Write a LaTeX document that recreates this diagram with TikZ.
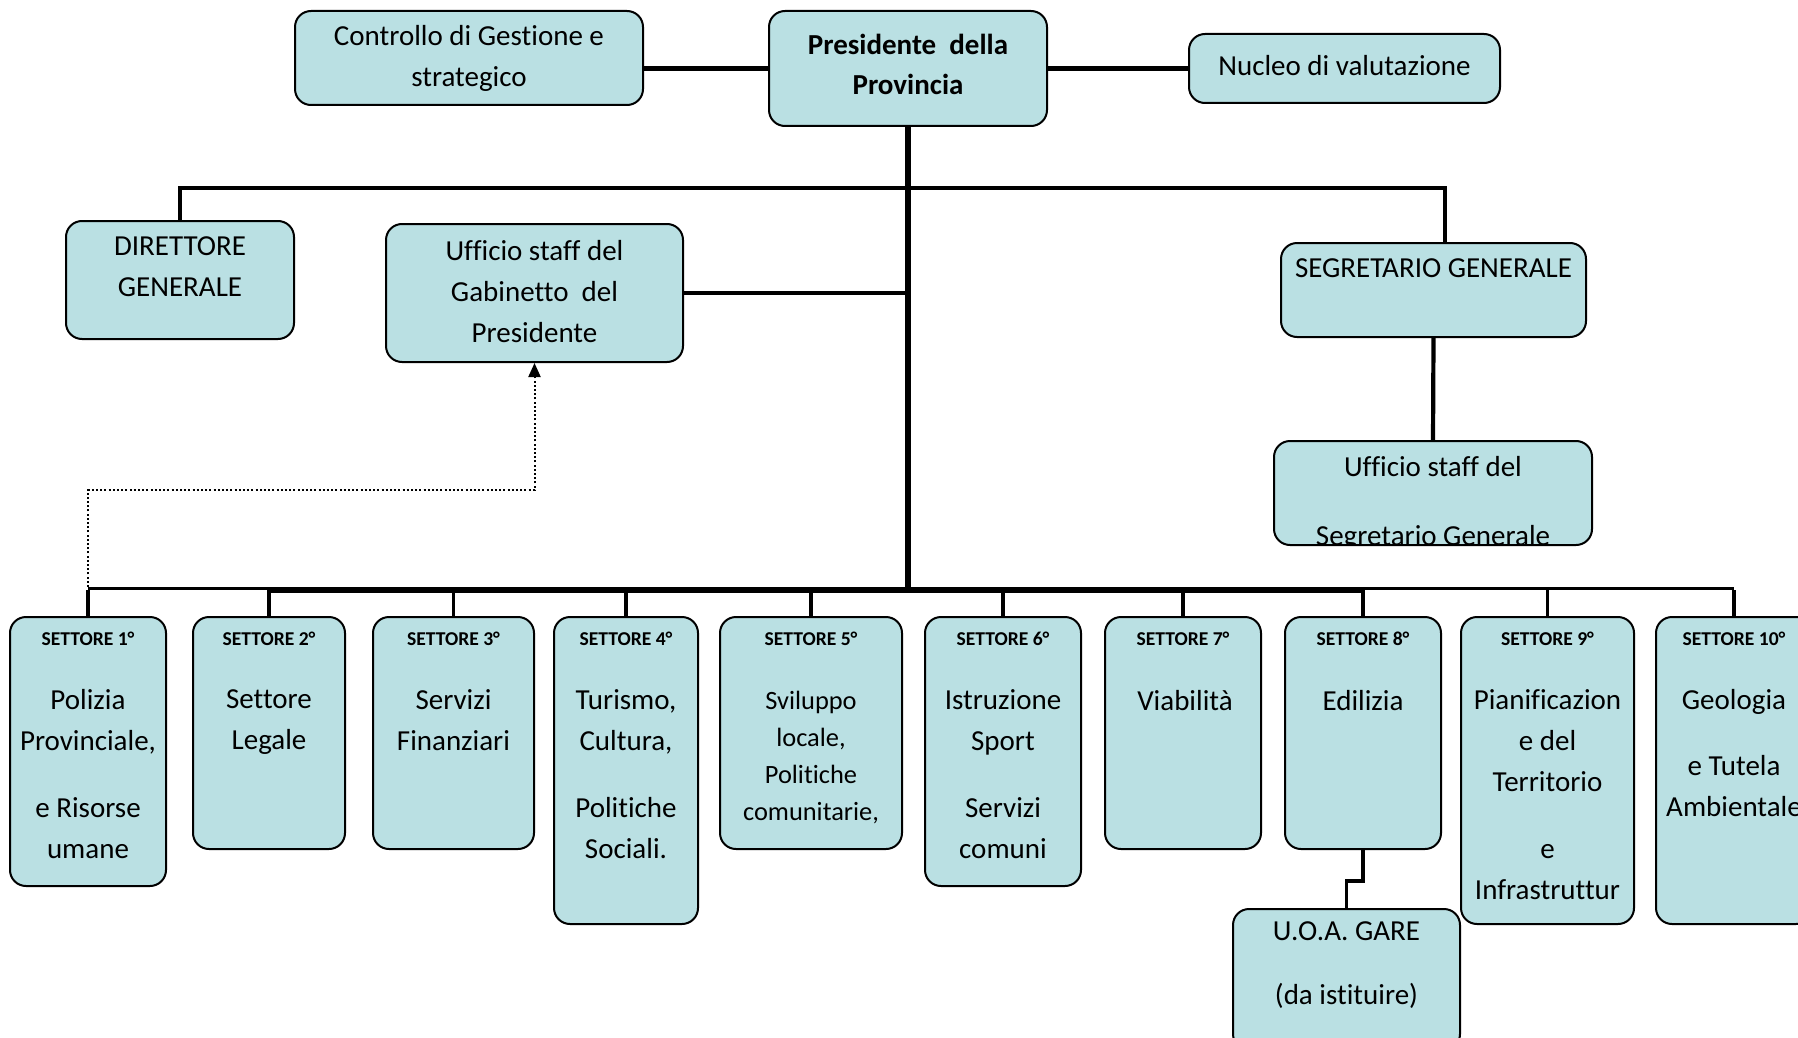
\documentclass[tikz,border=0pt]{standalone}
\usepackage{fontspec}
\setmainfont{Carlito}[Ligatures=NoCommon]
\usetikzlibrary{arrows.meta,positioning}
\definecolor{boxfill}{RGB}{186,224,227}
\newdimen\pxu \pxu=0.5pt
\tikzset{
  orgbox/.style={draw=black, line width=1pt, fill=boxfill, rounded corners=8pt, inner sep=0pt},
  txt/.style={inner sep=0pt, anchor=north, align=center,
    font=\fontsize{14.5}{20.5}\selectfont, execute at begin node=\strut},
  smalltxt/.style={txt, font=\fontsize{13.2}{18.5}\selectfont},
  tag/.style={inner sep=0pt, font=\fontsize{9.8}{12}\selectfont\bfseries},
  link/.style={line width=2.1pt},
  trunk/.style={line width=3pt},
  drop/.style={line width=1.8pt},
  thinbus/.style={line width=1.6pt},
  dotlink/.style={line width=1pt, dash pattern=on 1pt off 1.1pt, -{Triangle[length=7pt,width=6pt]}},
}
\begin{document}
\begin{tikzpicture}[x=0.5pt,y=-0.5pt]
      \useasboundingbox (0,0) rectangle (1798,1038);
      % top row
      \node[orgbox, minimum width=348\pxu, minimum height=94\pxu] (ctrl) at (469,58) {};
      \node[orgbox, minimum width=278\pxu, minimum height=115\pxu] (pres) at (908,68.5) {};
      \node[orgbox, minimum width=311\pxu, minimum height=69\pxu] (nucl) at (1344.5,68.5) {};
      \node[txt] (ctrlt) at (469,25) {Controllo di Gestione e\\strategico};
      \node[txt, font=\fontsize{14.5}{20}\selectfont\bfseries] (prest) at (908,34) {Presidente~ della\\Provincia};
      \node[txt] (nuclt) at (1344.5,46) {Nucleo di valutazione};
      % staff level
      \node[orgbox, minimum width=228\pxu, minimum height=118\pxu] (dir) at (180,280) {};
      \node[orgbox, minimum width=297\pxu, minimum height=138\pxu] (gab) at (534.5,293) {};
      \node[orgbox, minimum width=305\pxu, minimum height=94\pxu] (seg) at (1433.5,290) {};
      \node[orgbox, minimum width=318\pxu, minimum height=104\pxu] (usg) at (1433,493) {};
      \node[txt] (dirt) at (180,236) {DIRETTORE\\GENERALE};
      \node[txt] (gabt) at (534.5,240) {Ufficio staff del\\Gabinetto~ del\\Presidente};
      \node[txt] (segt) at (1433.5,248) {SEGRETARIO GENERALE};
      \begin{scope}
        \clip ([yshift=1.5pt]usg.south west) rectangle (usg.north east);
        \node[txt] (usgt) at (1433,456) {Ufficio staff del\\[14pt]Segretario Generale};
      \end{scope}
      % settori
      \node[orgbox, minimum width=156\pxu, minimum height=269\pxu] (s1) at (88,751.5) {};
      \node[orgbox, minimum width=152\pxu, minimum height=232\pxu] (s2) at (269,733) {};
      \node[orgbox, minimum width=161\pxu, minimum height=232\pxu] (s3) at (453.5,733) {};
      \node[orgbox, minimum width=144\pxu, minimum height=307\pxu] (s4) at (626,770.5) {};
      \node[orgbox, minimum width=182\pxu, minimum height=232\pxu] (s5) at (811,733) {};
      \node[orgbox, minimum width=156\pxu, minimum height=269\pxu] (s6) at (1003,751.5) {};
      \node[orgbox, minimum width=156\pxu, minimum height=232\pxu] (s7) at (1183,733) {};
      \node[orgbox, minimum width=156\pxu, minimum height=232\pxu] (s8) at (1363,733) {};
      \node[orgbox, minimum width=173\pxu, minimum height=307\pxu] (s9) at (1547.5,770.5) {};
      \node[orgbox, minimum width=156\pxu, minimum height=307\pxu] (s10) at (1734,770.5) {};
      \node[orgbox, minimum width=227\pxu, minimum height=141\pxu] (uoa) at (1346.5,979.5) {};
      \node[tag] (s1h) at (88,639) {SETTORE 1°};
      \node[tag] (s2h) at (269,639) {SETTORE 2°};
      \node[tag] (s3h) at (453.5,639) {SETTORE 3°};
      \node[tag] (s4h) at (626,639) {SETTORE 4°};
      \node[tag] (s5h) at (811,639) {SETTORE 5°};
      \node[tag] (s6h) at (1003,639) {SETTORE 6°};
      \node[tag] (s7h) at (1183,639) {SETTORE 7°};
      \node[tag] (s8h) at (1363,639) {SETTORE 8°};
      \node[tag] (s9h) at (1547.5,639) {SETTORE 9°};
      \node[tag] (s10h) at (1734,639) {SETTORE 10°};
      \node[txt] (s1t) at (88,689) {Polizia\\Provinciale,\\[13pt]e Risorse\\umane};
      \node[txt] (s2t) at (269,689) {Settore\\Legale};
      \node[txt] (s3t) at (453.5,689) {Servizi\\Finanziari};
      \node[txt] (s4t) at (626,689) {Turismo,\\Cultura,\\[13pt]Politiche\\Sociali.};
      \node[smalltxt] (s5t) at (811,691) {Sviluppo\\locale,\\Politiche\\comunitarie,};
      \node[txt] (s6t) at (1003,689) {Istruzione\\Sport\\[13pt]Servizi\\comuni};
      \node[txt] (s7t) at (1185,681) {Viabilità};
      \node[txt] (s8t) at (1363,681) {Edilizia};
      \node[txt] (s9t) at (1547.5,689) {Pianificazion\\e del\\Territorio\\[13pt]e\\Infrastruttur};
      \node[txt] (s10t) at (1734,689) {Geologia\\[12.5pt]e Tutela\\Ambientale};
      \node[txt] (uoat) at (1346.5,921) {U.O.A. GARE\\[11.5pt](da istituire)};
      % connectors
      \coordinate (bar) at (908,188);
      \coordinate (bus) at (908,590);
      \coordinate (segdrop) at (1445,243);
      \begin{scope}[line join=miter]
        \draw[link] (ctrl.east |- pres.west) -- (pres.west);
        \draw[link] (pres.east) -- (nucl.west);
        \draw[trunk] (pres.south) -- (pres.south |- bus);
        \draw[link] (dir.north) -- (dir.north |- bar) -- (bar -| segdrop) -- (segdrop);
        \draw[link] (gab.east) -- (gab.east -| pres.south);
        \draw[link] (seg.south) -- (usg.north);
        \draw[thinbus] ([yshift=0.7pt]s1.north |- bus) -- ([yshift=0.7pt]s2.north |- bus);
        \draw[trunk] (s2.north |- bus) -- (s8.north |- bus);
        \draw[thinbus] ([yshift=0.7pt]s8.north |- bus) -- ([yshift=0.7pt]s10.north |- bus);
        \draw[drop] (s1.north) -- (s1.north |- bus);
        \draw[drop] (s2.north) -- (s2.north |- bus);
        \draw[drop] (s3.north) -- (s3.north |- bus);
        \draw[drop] (s4.north) -- (s4.north |- bus);
        \draw[drop] (s5.north) -- (s5.north |- bus);
        \draw[drop] (s6.north) -- (s6.north |- bus);
        \draw[drop] (s7.north) -- (s7.north |- bus);
        \draw[drop] (s8.north) -- (s8.north |- bus);
        \draw[drop] (s9.north) -- (s9.north |- bus);
        \draw[drop] (s10.north) -- (s10.north |- bus);
        \draw[drop] (s8.south) -- ++(0,31) -| (uoa.north);
        \draw[dotlink] ([yshift=1.5pt]s1.north |- bus) -- ++(0,-97) -| (gab.south);
      \end{scope}
    \end{tikzpicture}
\end{document}
